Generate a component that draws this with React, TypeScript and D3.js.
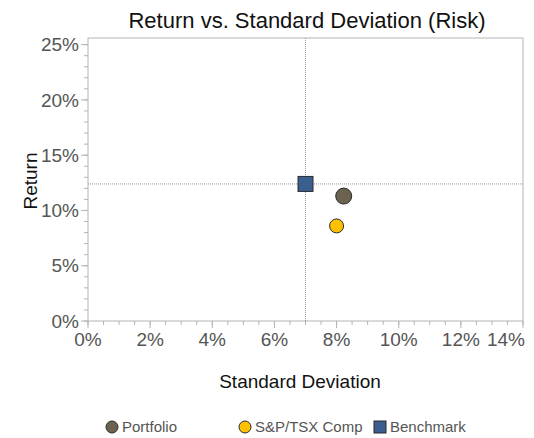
import * as d3 from "d3";
import React, { useEffect, useRef } from "react";

const seriesNames = ["Portfolio", "S&P/TSX Comp", "Benchmark"];
const stdDev = [8.23, 8.0, 7.0];
const returns = [11.3, 8.6, 12.4];
const xTicks = [0, 2, 4, 6, 8, 10, 12, 14];
const yTicks = [0, 5, 10, 15, 20, 25];

const fills = ["#6b6350", "#ffc000", "#3a5f8f"];

const App: React.FC = () => {
  const svgRef = useRef<SVGSVGElement | null>(null);

  useEffect(() => {
    if (!svgRef.current) return;
    const svg = d3.select(svgRef.current);
    svg.selectAll("*").remove();

    const width = 534;
    const height = 438;
    const margin = { top: 38, right: 11, bottom: 117, left: 88 };
    const font = "'Liberation Sans', Arial, sans-serif";

    const x = d3.scaleLinear().domain([0, 14]).range([margin.left, width - margin.right]);
    const y = d3.scaleLinear().domain([0, 25.6]).range([height - margin.bottom, margin.top]);

    const x0 = margin.left;
    const x1 = width - margin.right;
    const y0 = height - margin.bottom;
    const y1 = margin.top;

    // plot border
    svg
      .append("rect")
      .attr("x", x0)
      .attr("y", y1)
      .attr("width", x1 - x0)
      .attr("height", y0 - y1)
      .attr("fill", "none")
      .attr("stroke", "#b4b4b4")
      .attr("stroke-width", 1);

    // minor ticks
    svg
      .append("g")
      .selectAll("line")
      .data(d3.range(0, 14.01, 0.5))
      .enter()
      .append("line")
      .attr("x1", (d) => x(d))
      .attr("x2", (d) => x(d))
      .attr("y1", y0)
      .attr("y2", y0 + 4)
      .attr("stroke", "#b4b4b4");

    svg
      .append("g")
      .selectAll("line")
      .data(d3.range(0, 25.01, 1))
      .enter()
      .append("line")
      .attr("x1", x0 - 4)
      .attr("x2", x0)
      .attr("y1", (d) => y(d))
      .attr("y2", (d) => y(d))
      .attr("stroke", "#b4b4b4");

    // major ticks
    svg
      .append("g")
      .selectAll("line")
      .data(yTicks)
      .enter()
      .append("line")
      .attr("x1", x0 - 7)
      .attr("x2", x0)
      .attr("y1", (d) => y(d))
      .attr("y2", (d) => y(d))
      .attr("stroke", "#b4b4b4");

    svg
      .append("g")
      .selectAll("line")
      .data(xTicks)
      .enter()
      .append("line")
      .attr("x1", (d) => x(d))
      .attr("x2", (d) => x(d))
      .attr("y1", y0)
      .attr("y2", y0 + 7)
      .attr("stroke", "#b4b4b4");

    // tick labels
    svg
      .append("g")
      .selectAll("text")
      .data(yTicks)
      .enter()
      .append("text")
      .attr("x", x0 - 9)
      .attr("y", (d) => y(d))
      .attr("dy", "0.35em")
      .attr("text-anchor", "end")
      .attr("font-family", font)
      .attr("font-size", 19)
      .attr("fill", "#555")
      .text((d) => `${d}%`);

    svg
      .append("g")
      .selectAll("text")
      .data(xTicks)
      .enter()
      .append("text")
      .attr("x", (d, i) => (i === xTicks.length - 1 ? x1 + 2 : x(d)))
      .attr("y", y0 + 25)
      .attr("text-anchor", (d, i) => (i === xTicks.length - 1 ? "end" : "middle"))
      .attr("font-family", font)
      .attr("font-size", 19)
      .attr("fill", "#555")
      .text((d) => `${d}%`);

    // benchmark crosshair
    const bench = 2;
    svg
      .append("line")
      .attr("x1", x(stdDev[bench]))
      .attr("x2", x(stdDev[bench]))
      .attr("y1", y1)
      .attr("y2", y0)
      .attr("stroke", "#999")
      .attr("stroke-dasharray", "1,1");
    svg
      .append("line")
      .attr("x1", x0)
      .attr("x2", x1)
      .attr("y1", y(returns[bench]))
      .attr("y2", y(returns[bench]))
      .attr("stroke", "#999")
      .attr("stroke-dasharray", "1,1");

    // points
    const pts = seriesNames.map((name, i) => ({ name, sd: stdDev[i], ret: returns[i], fill: fills[i] }));
    pts.forEach((p, i) => {
      if (i === 2) {
        svg
          .append("rect")
          .attr("x", x(p.sd) - 7.5)
          .attr("y", y(p.ret) - 7.5)
          .attr("width", 15)
          .attr("height", 15)
          .attr("fill", p.fill)
          .attr("stroke", "#2b2b2b");
      } else {
        svg
          .append("circle")
          .attr("cx", x(p.sd))
          .attr("cy", y(p.ret))
          .attr("r", i === 0 ? 8 : 7)
          .attr("fill", p.fill)
          .attr("stroke", "#2b2b2b");
      }
    });

    // title
    svg
      .append("text")
      .attr("x", 307)
      .attr("y", 28)
      .attr("text-anchor", "middle")
      .attr("font-family", font)
      .attr("font-size", 22)
      .attr("fill", "#111")
      .text("Return vs. Standard Deviation (Risk)");

    // axis titles
    svg
      .append("text")
      .attr("x", 300)
      .attr("y", 388)
      .attr("text-anchor", "middle")
      .attr("font-family", font)
      .attr("font-size", 19)
      .attr("fill", "#111")
      .text("Standard Deviation");

    svg
      .append("text")
      .attr("transform", `translate(37,181) rotate(-90)`)
      .attr("text-anchor", "middle")
      .attr("font-family", font)
      .attr("font-size", 19)
      .attr("fill", "#111")
      .text("Return");

    // legend
    const legendX = [112, 245, 380];
    const ly = 427;
    pts.forEach((p, i) => {
      if (i === 2) {
        svg
          .append("rect")
          .attr("x", legendX[i] - 6)
          .attr("y", ly - 6)
          .attr("width", 12)
          .attr("height", 12)
          .attr("fill", p.fill)
          .attr("stroke", "#2b2b2b");
      } else {
        svg
          .append("circle")
          .attr("cx", legendX[i])
          .attr("cy", ly)
          .attr("r", 6)
          .attr("fill", p.fill)
          .attr("stroke", "#2b2b2b");
      }
      svg
        .append("text")
        .attr("x", legendX[i] + 10)
        .attr("y", ly)
        .attr("dy", "0.35em")
        .attr("font-family", font)
        .attr("font-size", 15)
        .attr("fill", "#555")
        .text(p.name);
    });
  }, []);

  return (
    <div style={{ position: "absolute", left: 0, top: 0 }}>
      <svg ref={svgRef} width={534} height={438} style={{ display: "block" }}></svg>
    </div>
  );
};

export default App;
